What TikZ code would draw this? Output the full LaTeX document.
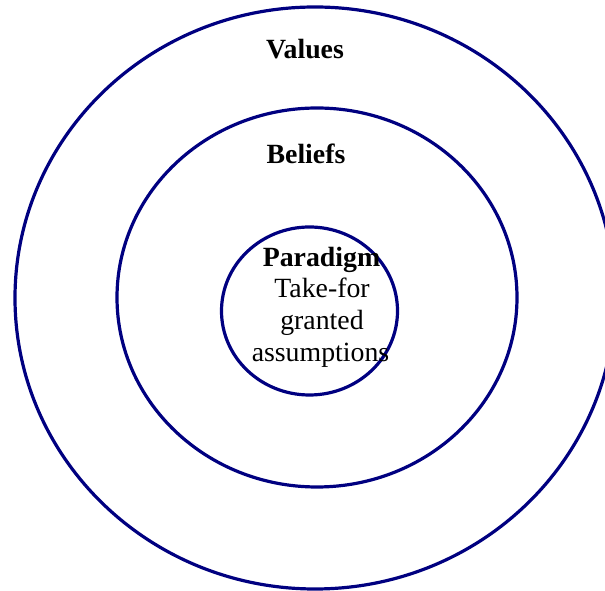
\documentclass[tikz,border=0pt]{standalone}
\usepackage{fontspec}
\setmainfont{Liberation Serif}
\definecolor{ringblue}{RGB}{0,0,128}
\begin{document}
\begin{tikzpicture}[x=1pt,y=1pt,
  ring/.style={draw=ringblue,line width=3.2pt},
  lbl/.style={font=\fontsize{27.8}{31.5}\selectfont\bfseries,anchor=base,inner sep=0pt},
  txt/.style={font=\fontsize{27.8}{31.5}\selectfont,anchor=base,inner sep=0pt}]
\useasboundingbox (0,0) rectangle (605,591);
\clip (0,0) rectangle (605,591);
\draw[ring] (315,293) ellipse [x radius=300,y radius=291];
\draw[ring] (317,293.5) ellipse [x radius=200,y radius=189.5];
\draw[ring] (309.5,280) ellipse [x radius=88,y radius=84];
\node[lbl] (values) at (305,532) {Values};
\node[lbl] (beliefs) at (306,427) {Beliefs};
\node[lbl] (paradigm) at (321.5,324) {Paradigm};
\node[txt] (take) at (322,293) {Take-for};
\node[txt] (granted) at (322,261) {granted};
\node[txt] (assume) at (320.5,229) {assumptions};
\end{tikzpicture}
\end{document}
